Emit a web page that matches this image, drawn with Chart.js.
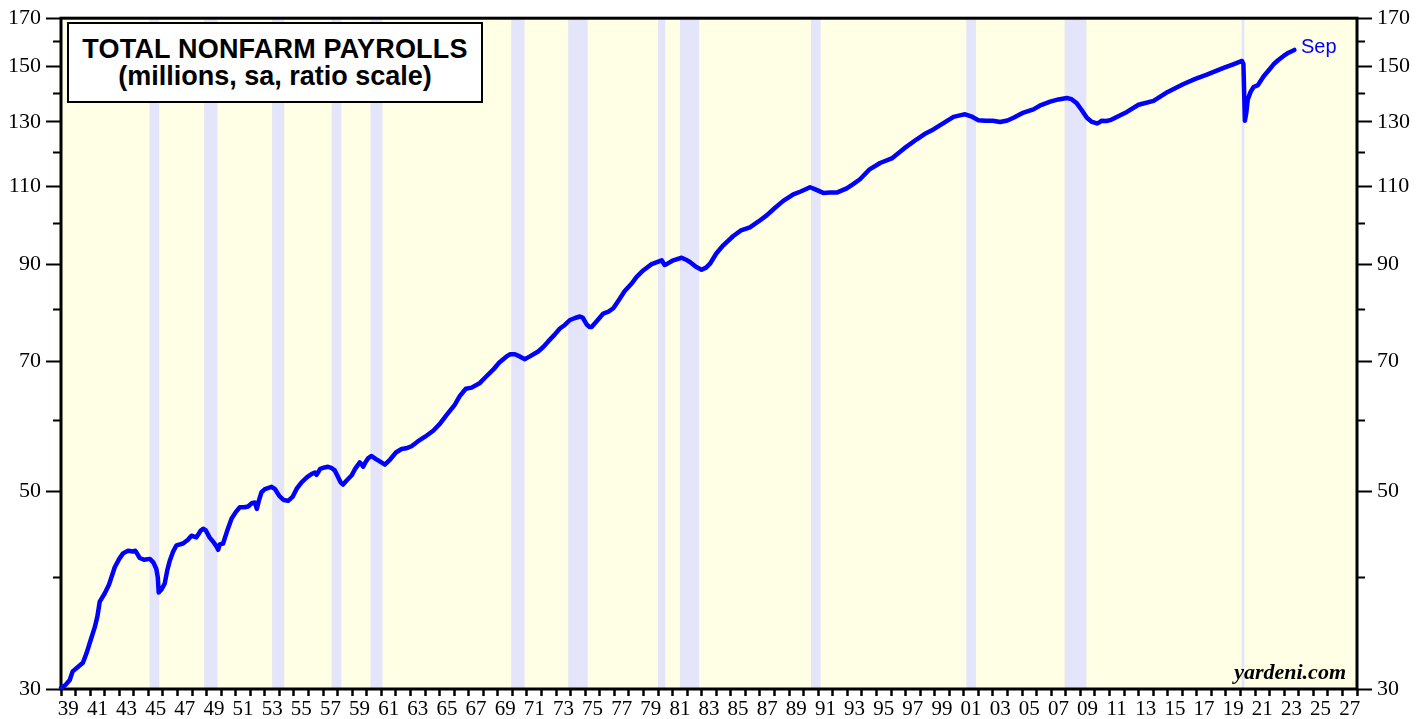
<!DOCTYPE html>
<html>
<head>
<meta charset="utf-8">
<script src="https://cdn.jsdelivr.net/npm/chart.js@4/dist/chart.umd.min.js"></script>
<style>
    html, body { margin: 0; padding: 0; background: #fff; }
    #wrap { position: relative; width: 1424px; height: 719px; overflow: hidden; }
    canvas { display: block; }
    .title-box {
        position: absolute; left: 67px; top: 22px; width: 412px; height: 77px;
        border: 2px solid #000; background: #fff; text-align: center;
        font: bold 27px "Liberation Sans", Arial, sans-serif; line-height: 27px;
        box-sizing: content-box;
    }
    .title-box div:first-child { margin-top: 12px; letter-spacing: 0.2px; }
    .source {
        position: absolute; right: 78px; top: 661px;
        font: italic bold 22px "Liberation Serif", "Times New Roman", serif; line-height: 22px;
    }
    .last-label {
        position: absolute; left: 1301px; top: 36px; color: #0000ff;
        font: 20px "Liberation Sans", Arial, sans-serif; line-height: 20px;
    }
</style>
</head>
<body>
<div id="wrap">
    <canvas id="payrollChart" width="1424" height="719"></canvas>
    <div class="title-box"><div>TOTAL NONFARM PAYROLLS</div><div>(millions, sa, ratio scale)</div></div>
    <div class="source">yardeni.com</div>
    <div class="last-label">Sep</div>
</div>
<script>
// payrolls in millions (x = fractional year)
const years = [
    1939.0, 1939.3, 1939.6, 1939.8, 1940.1, 1940.5, 1940.75, 1941.0, 1941.32, 1941.5,
    1941.66, 1942.0, 1942.3, 1942.69, 1943.0, 1943.26, 1943.6, 1943.95, 1944.1, 1944.41,
    1944.7, 1945.1, 1945.35, 1945.55, 1945.65, 1945.71, 1945.9, 1946.12, 1946.3, 1946.47,
    1946.7, 1946.93, 1947.38, 1947.7, 1947.96, 1948.3, 1948.6, 1948.76, 1948.95, 1949.2,
    1949.5, 1949.7, 1949.79, 1949.9, 1950.13, 1950.4, 1950.71, 1951.0, 1951.28, 1951.6,
    1951.85, 1952.1, 1952.31, 1952.45, 1952.6, 1952.77, 1953.0, 1953.46, 1953.7, 1954.0,
    1954.3, 1954.6, 1954.9, 1955.2, 1955.52, 1955.9, 1956.2, 1956.43, 1956.55, 1956.8,
    1957.1, 1957.34, 1957.6, 1957.8, 1958.0, 1958.2, 1958.37, 1958.6, 1958.95, 1959.2,
    1959.52, 1959.65, 1959.75, 1959.9, 1960.1, 1960.33, 1960.6, 1961.0, 1961.24, 1961.6,
    1962.0, 1962.39, 1962.7, 1963.07, 1963.5, 1964.0, 1964.56, 1965.0, 1965.5, 1966.05,
    1966.39, 1966.8, 1967.2, 1967.77, 1968.2, 1968.68, 1969.1, 1969.6, 1969.85, 1970.17,
    1970.5, 1970.86, 1971.2, 1971.77, 1972.1, 1972.46, 1972.9, 1973.26, 1973.6, 1973.95,
    1974.3, 1974.64, 1974.82, 1975.1, 1975.3, 1975.44, 1975.8, 1976.24, 1976.6, 1976.93,
    1977.3, 1977.7, 1978.19, 1978.53, 1979.0, 1979.56, 1980.25, 1980.45, 1980.59, 1981.05,
    1981.62, 1982.0, 1982.19, 1982.6, 1982.99, 1983.3, 1983.57, 1984.0, 1984.48, 1985.17,
    1985.7, 1986.31, 1986.9, 1987.46, 1988.0, 1988.6, 1989.29, 1989.8, 1990.44, 1990.8,
    1991.35, 1991.8, 1992.27, 1992.96, 1993.4, 1993.87, 1994.5, 1995.25, 1996.05, 1996.9,
    1997.77, 1998.3, 1998.91, 1999.6, 2000.29, 2000.8, 2001.09, 2001.5, 2002.0, 2002.5,
    2003.0, 2003.49, 2004.0, 2004.41, 2005.1, 2005.78, 2006.3, 2006.93, 2007.5, 2008.07,
    2008.4, 2008.76, 2009.1, 2009.45, 2009.8, 2010.14, 2010.35, 2010.48, 2010.8, 2011.05,
    2011.5, 2012.2, 2013.0, 2014.03, 2015.0, 2016.09, 2016.9, 2017.69, 2018.84, 2019.5,
    2020.1, 2020.2, 2020.3, 2020.4, 2020.5, 2020.7, 2020.9, 2021.2, 2021.58, 2022.0,
    2022.27, 2022.6, 2022.96, 2023.3, 2023.7
];
const payrolls = [
    30.1, 30.3, 30.7, 31.4, 31.7, 32.1, 32.9, 33.9, 35.2, 36.2,
    37.6, 38.4, 39.3, 41.1, 42.0, 42.6, 42.9, 42.8, 42.9, 42.1,
    41.9, 42.0, 41.6, 40.9, 40.0, 38.5, 38.8, 39.4, 40.8, 41.8,
    42.8, 43.5, 43.7, 44.1, 44.6, 44.4, 45.2, 45.4, 45.2, 44.4,
    43.8, 43.3, 43.0, 43.6, 43.7, 45.1, 46.6, 47.4, 48.0, 48.0,
    48.1, 48.5, 48.6, 47.8, 48.9, 49.9, 50.3, 50.6, 50.3, 49.4,
    48.9, 48.8, 49.3, 50.4, 51.2, 51.9, 52.3, 52.5, 52.2, 53.0,
    53.2, 53.3, 53.1, 52.8, 52.0, 51.2, 50.9, 51.4, 52.1, 53.0,
    53.9, 53.6, 53.3, 53.9, 54.5, 54.8, 54.4, 53.9, 53.6, 54.3,
    55.3, 55.8, 55.9, 56.2, 56.9, 57.6, 58.5, 59.5, 61.0, 62.6,
    64.0, 65.2, 65.4, 66.2, 67.3, 68.5, 69.8, 70.9, 71.3, 71.3,
    70.9, 70.4, 70.9, 71.8, 72.6, 73.7, 75.0, 76.2, 76.9, 77.9,
    78.3, 78.6, 78.4, 77.0, 76.5, 76.5, 77.7, 79.2, 79.6, 80.3,
    82.0, 83.9, 85.6, 87.1, 88.6, 90.0, 90.9, 89.8, 90.0, 90.9,
    91.5, 90.9, 90.5, 89.4, 88.7, 89.2, 90.1, 92.5, 94.5, 96.8,
    98.2, 99.0, 100.5, 102.1, 104.0, 106.0, 107.8, 108.6, 109.8, 109.2,
    108.2, 108.3, 108.3, 109.5, 110.7, 112.1, 114.9, 116.9, 118.3, 121.4,
    124.3, 126.0, 127.5, 129.6, 131.7, 132.3, 132.6, 131.9, 130.6, 130.4,
    130.4, 130.0, 130.5, 131.4, 133.2, 134.3, 135.8, 137.0, 137.8, 138.3,
    137.9, 136.4, 134.0, 131.4, 130.0, 129.5, 130.0, 130.4, 130.3, 130.6,
    131.7, 133.4, 135.9, 137.3, 140.5, 143.4, 145.3, 146.9, 149.5, 150.9,
    152.2, 151.0, 130.4, 133.2, 137.8, 140.6, 142.3, 143.0, 146.2, 149.0,
    150.9, 152.6, 154.2, 155.5, 156.6
];

// recessions (fractional years)
const recessionStart = [1945.08, 1948.83, 1953.5, 1957.58, 1960.25, 1969.92, 1973.83, 1980.0, 1981.5, 1990.5, 2001.17, 2007.92, 2020.08];
const recessionEnd = [1945.75, 1949.75, 1954.33, 1958.25, 1961.08, 1970.83, 1975.17, 1980.5, 1982.83, 1991.17, 2001.83, 2009.42, 2020.27];

const yTickValues = [30, 40, 50, 60, 70, 80, 90, 100, 110, 120, 130, 140, 150, 160, 170];
const yLabelValues = [30, 50, 70, 90, 110, 130, 150, 170];
const xFirstYear = 1939;
const xLastYear = 2028;

const plotBackground = {
    id: 'plotBackground',
    beforeDatasetsDraw(chart) {
        const { ctx, chartArea: a, scales } = chart;
        ctx.save();
        ctx.fillStyle = '#ffffe5';
        ctx.fillRect(a.left, a.top, a.right - a.left, a.bottom - a.top);
        ctx.fillStyle = '#e4e4fa';
        recessionStart.forEach((s, i) => {
            const x1 = scales.x.getPixelForValue(s);
            const x2 = scales.x.getPixelForValue(recessionEnd[i]);
            ctx.fillRect(x1, a.top, Math.max(x2 - x1, 2), a.bottom - a.top);
        });
        ctx.strokeStyle = '#000';
        ctx.lineWidth = 3;
        ctx.strokeRect(a.left, a.top, a.right - a.left, a.bottom - a.top);
        ctx.restore();
    }
};

const serifFont = '"Liberation Serif", "Times New Roman", serif';

function yTickOptions() {
    return {
        autoSkip: false,
        padding: 5,
        color: '#000',
        font: { family: serifFont, size: 22 },
        callback: (v) => yLabelValues.includes(Math.round(v)) ? String(Math.round(v)) : ''
    };
}

const ctx = document.getElementById('payrollChart').getContext('2d');
new Chart(ctx, {
    type: 'line',
    data: {
        datasets: [{
            data: years.map((yr, i) => ({ x: yr, y: payrolls[i] })),
            borderColor: '#0000ff',
            borderWidth: 4.5,
            borderJoinStyle: 'round',
            borderCapStyle: 'round',
            pointRadius: 0,
            tension: 0,
            clip: 4
        }]
    },
    plugins: [plotBackground],
    options: {
        responsive: false,
        animation: false,
        events: [],
        layout: { padding: { top: 15, left: 0, right: 0, bottom: 0 } },
        plugins: { legend: { display: false }, tooltip: { enabled: false } },
        scales: {
            x: {
                type: 'linear',
                position: 'bottom',
                min: xFirstYear,
                max: xLastYear,
                afterBuildTicks: (axis) => {
                    const t = [];
                    for (let y = xFirstYear; y <= xLastYear; y += 0.5) t.push({ value: y });
                    axis.ticks = t;
                },
                afterFit: (axis) => { axis.height = 30; },
                border: { display: false },
                grid: {
                    drawOnChartArea: false,
                    tickLength: 7,
                    tickWidth: 2.5,
                    tickColor: (c) => Number.isInteger(c.tick.value) ? '#000' : 'rgba(0,0,0,0)'
                },
                ticks: {
                    autoSkip: false,
                    maxRotation: 0,
                    padding: 1,
                    color: '#000',
                    font: { family: serifFont, size: 21 },
                    callback: (v) => {
                        if (Number.isInteger(v)) return '';
                        const yr = Math.round(v - 0.5);
                        return yr % 2 === 1 ? String(yr % 100).padStart(2, '0') : '';
                    }
                }
            },
            y: {
                type: 'logarithmic',
                position: 'left',
                min: 30,
                max: 170,
                afterBuildTicks: (axis) => { axis.ticks = yTickValues.map((v) => ({ value: v })); },
                afterFit: (axis) => { axis.width = 61; },
                border: { display: false },
                grid: {
                    drawOnChartArea: false,
                    tickLength: 15,
                    tickWidth: 2,
                    tickColor: '#000',
                    tickBorderDash: (c) => yLabelValues.includes(Math.round(c.tick.value)) ? [] : [0, 7, 8, 50]
                },
                ticks: yTickOptions()
            },
            y2: {
                type: 'logarithmic',
                position: 'right',
                min: 30,
                max: 170,
                afterBuildTicks: (axis) => { axis.ticks = yTickValues.map((v) => ({ value: v })); },
                afterFit: (axis) => { axis.width = 67; },
                border: { display: false },
                grid: {
                    drawOnChartArea: false,
                    tickLength: 15,
                    tickWidth: 2,
                    tickColor: '#000',
                    tickBorderDash: (c) => yLabelValues.includes(Math.round(c.tick.value)) ? [] : [8, 50]
                },
                ticks: yTickOptions()
            }
        }
    }
});
</script>
</body>
</html>
